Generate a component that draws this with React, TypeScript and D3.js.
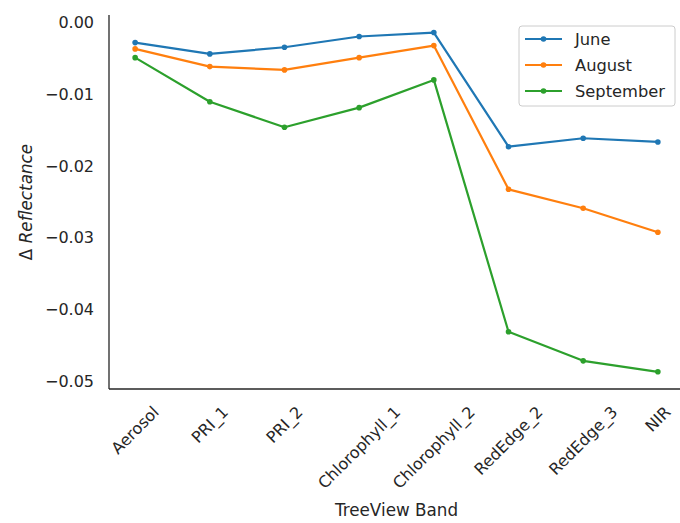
import React from "react";
import * as d3 from "d3";

const bands = [
  "Aerosol",
  "PRI_1",
  "PRI_2",
  "Chlorophyll_1",
  "Chlorophyll_2",
  "RedEdge_2",
  "RedEdge_3",
  "NIR",
];

const june = [-0.00275, -0.00433, -0.0034, -0.0019, -0.00135, -0.01728, -0.0161, -0.01662];
const august = [-0.00363, -0.0061, -0.00656, -0.00485, -0.00317, -0.02323, -0.02588, -0.02923];
const september = [-0.00485, -0.011, -0.01457, -0.01183, -0.00796, -0.04311, -0.04717, -0.0487];

const seriesNames = ["June", "August", "September"];
const seriesColors = ["#1f77b4", "#ff7f0e", "#2ca02c"];
const yTicks = [0, -0.01, -0.02, -0.03, -0.04, -0.05];

const W = 680;
const H = 523;
const FONT = "'DejaVu Sans', sans-serif";
const TEXT = "#262626";
const TICK_SIZE = 16;

// plot area
const left = 109;
const right = 684;
const top = 15;
const bottom = 389;

let measureCtx: CanvasRenderingContext2D | null = null;
function textWidth(s: string, font: string): number {
  if (!measureCtx) {
    const c = document.createElement("canvas");
    measureCtx = c.getContext("2d");
  }
  if (!measureCtx) return s.length * 8;
  measureCtx.font = font;
  return measureCtx.measureText(s).width;
}

export default function App() {
  const series = [june, august, september];
  const n = bands.length;

  const x = d3
    .scaleLinear()
    .domain([-0.35, n - 1 + 0.35])
    .range([left, right]);

  const y = d3.scaleLinear().domain([0.0011, -0.0511]).range([top, bottom]);

  const line = d3
    .line<number>()
    .x((_, i) => x(i))
    .y((d) => y(d));

  const fmt = d3.format(".2f");

  return (
    <div style={{ position: "absolute", left: 0, top: 0, width: W, height: H, background: "#fff" }}>
      <svg width={W} height={H} style={{ display: "block" }} fontFamily={FONT}>
        <rect width={W} height={H} fill="#fff" />

        {/* y tick labels */}
        {yTicks.map((t) => (
          <text
            key={t}
            x={left - 15}
            y={y(t)}
            textAnchor="end"
            dominantBaseline="central"
            fontSize={TICK_SIZE}
            fill={TEXT}
          >
            {fmt(t).replace("-", "\u2212")}
          </text>
        ))}

        {/* x tick labels, rotated 45° and centred on each band */}
        {bands.map((b, i) => {
          const w = textWidth(b, `${TICK_SIZE}px ${FONT}`);
          const cy = 405 + (w + 12) * 0.3535;
          const cx = x(i);
          return (
            <text
              key={b}
              x={cx}
              y={cy}
              transform={`rotate(-45 ${cx} ${cy})`}
              textAnchor="middle"
              dominantBaseline="central"
              fontSize={TICK_SIZE}
              fill={TEXT}
            >
              {b}
            </text>
          );
        })}

        {/* series */}
        {series.map((s, k) => (
          <g key={seriesNames[k]}>
            <path
              d={line(s) || ""}
              fill="none"
              stroke={seriesColors[k]}
              strokeWidth={2.2}
              strokeLinejoin="round"
            />
            {s.map((v, i) => (
              <circle key={i} cx={x(i)} cy={y(v)} r={2.8} fill={seriesColors[k]} />
            ))}
          </g>
        ))}

        {/* spines */}
        <line x1={left} x2={left} y1={top} y2={bottom} stroke={TEXT} strokeWidth={1.3} />
        <line x1={left} x2={right} y1={bottom} y2={bottom} stroke={TEXT} strokeWidth={1.3} />

        {/* axis titles */}
        <text
          x={(left + right) / 2}
          y={510}
          textAnchor="middle"
          dominantBaseline="central"
          fontSize={16.8}
          fill={TEXT}
        >
          TreeView Band
        </text>
        <text
          transform={`translate(26 ${(top + bottom) / 2}) rotate(-90)`}
          textAnchor="middle"
          dominantBaseline="central"
          fontSize={16.8}
          fill={TEXT}
        >
          Δ <tspan fontStyle="italic">Reflectance</tspan>
        </text>

        {/* legend */}
        <g>
          <rect
            x={519}
            y={26}
            width={156}
            height={80}
            rx={3}
            fill="#fff"
            fillOpacity={0.8}
            stroke="#cccccc"
            strokeWidth={1}
          />
          {seriesNames.map((name, k) => {
            const ly = 39 + k * 26;
            return (
              <g key={name}>
                <line x1={525} x2={562} y1={ly} y2={ly} stroke={seriesColors[k]} strokeWidth={2.2} />
                <circle cx={543.5} cy={ly} r={2.8} fill={seriesColors[k]} />
                <text x={575} y={ly} dominantBaseline="central" fontSize={16.3} fill={TEXT}>
                  {name}
                </text>
              </g>
            );
          })}
        </g>
      </svg>
    </div>
  );
}
